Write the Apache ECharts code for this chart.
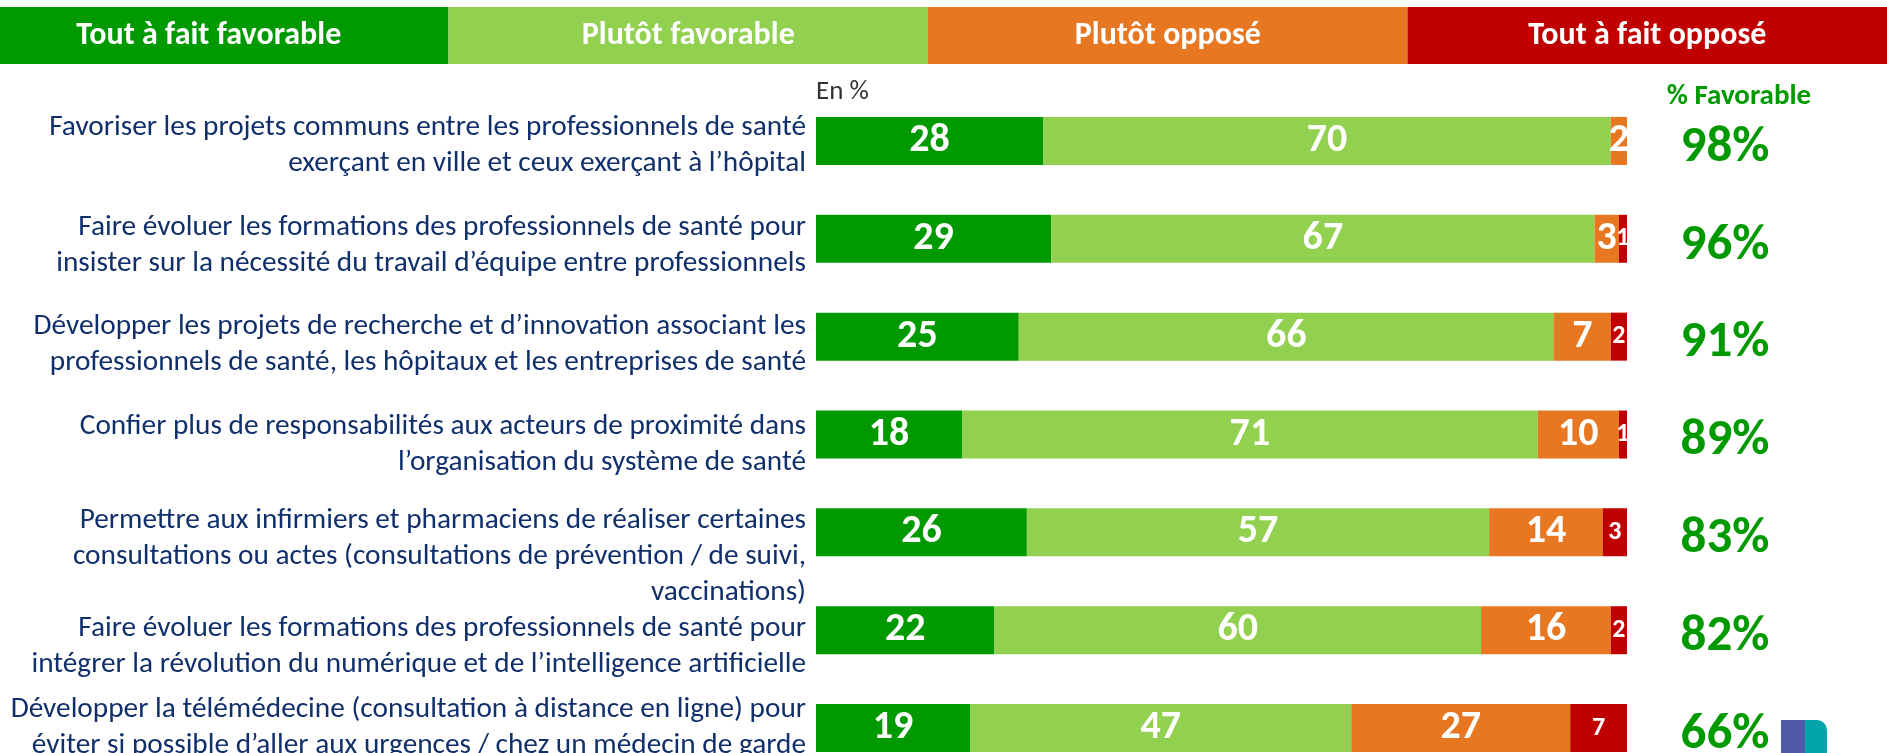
<!DOCTYPE html>
<html>
<head>
<meta charset="utf-8">
<script src="https://cdn.jsdelivr.net/npm/echarts@6/dist/echarts.min.js"></script>
<style>
  html, body { margin: 0; padding: 0; background: #fff; }
  #chart { width: 1887px; height: 753px; }
</style>
</head>
<body>
<div id="chart"></div>
<script>
// answer categories (legend header)
const legendNames = ['Tout à fait favorable', 'Plutôt favorable', 'Plutôt opposé', 'Tout à fait opposé'];

// questions, top to bottom
const categories = [
    'Favoriser les projets communs entre les professionnels de santé\nexerçant en ville et ceux exerçant à l’hôpital',
    'Faire évoluer les formations des professionnels de santé pour\ninsister sur la nécessité du travail d’équipe entre professionnels',
    'Développer les projets de recherche et d’innovation associant les\nprofessionnels de santé, les hôpitaux et les entreprises de santé',
    'Confier plus de responsabilités aux acteurs de proximité dans\nl’organisation du système de santé',
    'Permettre aux infirmiers et pharmaciens de réaliser certaines\nconsultations ou actes (consultations de prévention / de suivi,\nvaccinations)',
    'Faire évoluer les formations des professionnels de santé pour\nintégrer la révolution du numérique et de l’intelligence artificielle',
    'Développer la télémédecine (consultation à distance en ligne) pour\néviter si possible d’aller aux urgences / chez un médecin de garde'
];

const toutFavorable   = [28, 29, 25, 18, 26, 22, 19];
const plutotFavorable = [70, 67, 66, 71, 57, 60, 47];
const plutotOppose    = [2, 3, 7, 10, 14, 16, 27];
const toutOppose      = [0, 1, 2, 1, 3, 2, 7];
const favorable       = [98, 96, 91, 89, 83, 82, 66];

const colors = ['#009a00', '#92d050', '#e87722', '#c00000'];
const font = "Carlito, 'Liberation Sans Narrow', 'Open Sans', sans-serif";
const navy = '#102f6b';
// small downward nudges of the question labels (px)
const labelShift = [5, 7, 8, 10, 24, 16, 0];

const chart = echarts.init(document.getElementById('chart'));

function segLabel(size) {
    return {
        show: true,
        position: 'inside',
        color: '#fff',
        fontFamily: font,
        fontWeight: 'bold',
        fontSize: size,
        formatter: p => (p.value ? p.value : '')
    };
}

// an invisible first line pushes the label block down by half its height
const gapStyles = {};
labelShift.forEach((s, i) => {
    gapStyles['g' + i] = { fontSize: 1, lineHeight: Math.max(1, s * 2), color: 'rgba(0,0,0,0)' };
});

const seriesData = [toutFavorable, plutotFavorable, plutotOppose, toutOppose];

const option = {
    animation: false,
    textStyle: { fontFamily: font },
    title: [
        { text: 'En %', left: 811, top: 74, textStyle: { fontFamily: font, fontSize: 27, fontWeight: 'normal', color: '#333' } },
        { text: '% Favorable', left: 1734, top: 77, textAlign: 'center', textStyle: { fontFamily: font, fontSize: 29, fontWeight: 'bold', color: '#009a00' } }
    ],
    grid: [
        { left: 816, width: 811, top: 92, height: 685, outerBoundsMode: 'none' },
        { left: 1660, width: 130, top: 92, height: 685, outerBoundsMode: 'none' },
        { left: -31, width: 1918, top: 7, height: 57, outerBoundsMode: 'none' }
    ],
    xAxis: [
        { gridIndex: 0, type: 'value', min: 0, max: 100, show: false },
        { gridIndex: 1, type: 'value', min: 0, max: 1, show: false },
        { gridIndex: 2, type: 'category', data: legendNames, show: false }
    ],
    yAxis: [
        {
            gridIndex: 0, type: 'category', inverse: true,
            data: categories,
            axisLine: { show: false }, axisTick: { show: false },
            axisLabel: {
                margin: 10, fontFamily: font, fontSize: 29.3, lineHeight: 36,
                color: navy, align: 'right', verticalAlign: 'middle',
                formatter: (v, i) => (labelShift[i] ? '{g' + i + '|\u200b}\n' : '') + v,
                rich: gapStyles
            }
        },
        { gridIndex: 1, type: 'category', inverse: true, data: categories, show: false },
        { gridIndex: 2, type: 'value', min: 0, max: 1, show: false }
    ],
    series: [
        ...seriesData.map((d, k) => ({
            name: legendNames[k],
            type: 'bar',
            stack: 'total',
            xAxisIndex: 0, yAxisIndex: 0,
            barWidth: 48,
            itemStyle: { color: colors[k] },
            label: segLabel(k === 3 ? 26 : 40),
            data: d
        })),
        {
            type: 'bar',
            xAxisIndex: 1, yAxisIndex: 1,
            barWidth: 48,
            itemStyle: { color: 'rgba(0,0,0,0)' },
            label: {
                show: true, position: 'inside', offset: [0, 7],
                fontFamily: font, fontWeight: 'bold', fontSize: 51, color: '#009a00',
                formatter: p => favorable[p.dataIndex] + '%'
            },
            data: favorable.map(() => 1)
        },
        {
            type: 'bar',
            xAxisIndex: 2, yAxisIndex: 2,
            barCategoryGap: 0,
            label: {
                show: true, position: 'inside',
                fontFamily: font, fontWeight: 'bold', fontSize: 32, color: '#fff',
                formatter: p => p.name
            },
            data: legendNames.map((n, k) => ({ value: 1, itemStyle: { color: colors[k] } }))
        }
    ],
    graphic: [
        { type: 'rect', shape: { x: 1781, y: 720, width: 24, height: 40 }, style: { fill: '#4f5ba8' } },
        { type: 'rect', shape: { x: 1805, y: 720, width: 22, height: 40, r: [0, 10, 0, 0] }, style: { fill: '#00a6a9' } }
    ]
};

chart.setOption(option);
</script>
</body>
</html>
